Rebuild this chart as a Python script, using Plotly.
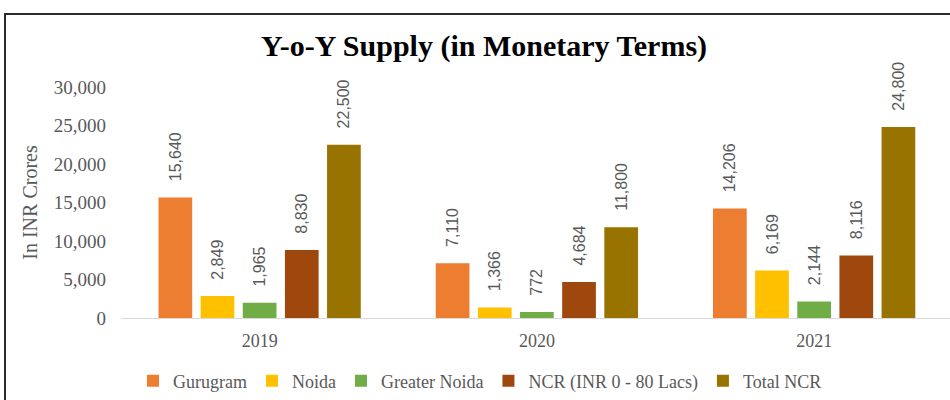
import plotly.graph_objects as go

years = ["2019", "2020", "2021"]
series_names = ["Gurugram", "Noida", "Greater Noida", "NCR (INR 0 - 80 Lacs)", "Total NCR"]
gurugram = [15640, 7110, 14206]
noida = [2849, 1366, 6169]
greater_noida = [1965, 772, 2144]
ncr_0_80 = [8830, 4684, 8116]
total_ncr = [22500, 11800, 24800]
y_ticks = [0, 5000, 10000, 15000, 20000, 25000, 30000]

values = [gurugram, noida, greater_noida, ncr_0_80, total_ncr]
colors = ["#ED7D31", "#FFC000", "#70AD47", "#9E480E", "#997300"]

W, H = 950, 400
L, R, T, B = 121, 0, 87, 82
pw, ph = W - L - R, H - T - B
SERIF = "Liberation Serif, Times New Roman, serif"

fig = go.Figure()
for name, vals, col in zip(series_names, values, colors):
    fig.add_trace(go.Bar(
        name=name, x=years, y=vals,
        marker=dict(color=col, line=dict(width=0)),
        texttemplate="\u00a0\u00a0\u00a0%{y:,}",
        textposition="outside",
        textangle=-90,
        constraintext="none",
        cliponaxis=False,
        textfont=dict(family="Liberation Sans, Arial, sans-serif", size=16, color="#595959"),
        hoverinfo="skip",
    ))

def wx(px):
    # pixel x -> paper x
    return (px - L) / pw

def wy(py):
    # pixel y -> paper y
    return (H - B - py) / ph

fig.update_layout(
    width=W, height=H,
    margin=dict(l=L, r=R, t=T, b=B, pad=0, autoexpand=False),
    paper_bgcolor="white", plot_bgcolor="white",
    barmode="group", bargap=0.24, bargroupgap=0.2,
    title=dict(
        text="<b>Y-o-Y Supply (in Monetary Terms)</b>",
        font=dict(family=SERIF, size=30, color="#000000"),
        x=484 / W, xanchor="center", xref="container",
        y=1 - 45 / H, yanchor="middle", yref="container",
    ),
    font=dict(family=SERIF, color="#595959"),
    xaxis=dict(
        type="category", range=[-0.5, 2.49],
        showgrid=False, showline=True, linecolor="#D9D9D9", linewidth=1,
        ticks="", tickfont=dict(size=18, color="#595959", family=SERIF),
        ticklabelstandoff=6,
        zeroline=False,
    ),
    yaxis=dict(
        range=[0, 30000], tickvals=y_ticks, tickformat=",",
        showgrid=False, showline=False, zeroline=False, ticks="",
        tickfont=dict(size=19, color="#595959", family=SERIF),
        ticklabelstandoff=14,
        title=dict(text="In INR Crores",
                   font=dict(size=20, color="#595959", family=SERIF),
                   standoff=10),
    ),
    legend=dict(
        orientation="h", xanchor="center", yanchor="middle",
        x=wx(480), y=wy(381),
        font=dict(size=18, color="#595959", family=SERIF),
        bgcolor="rgba(0,0,0,0)", itemwidth=30,
        tracegroupgap=0,
    ),
    showlegend=True,
)

fig.add_shape(
    type="rect", xref="paper", yref="paper",
    x0=wx(5), x1=wx(1000),
    y0=wy(450), y1=wy(14),
    line=dict(color="#2b2b2b", width=2), fillcolor="rgba(0,0,0,0)",
    layer="above",
)

page_css = (
    "document.body.style.margin='0';"
    "document.documentElement.style.overflow='hidden';"
    "document.body.style.overflow='hidden';"
)
fig.write_html("out.html", post_script=page_css,
               config={"displayModeBar": False})
